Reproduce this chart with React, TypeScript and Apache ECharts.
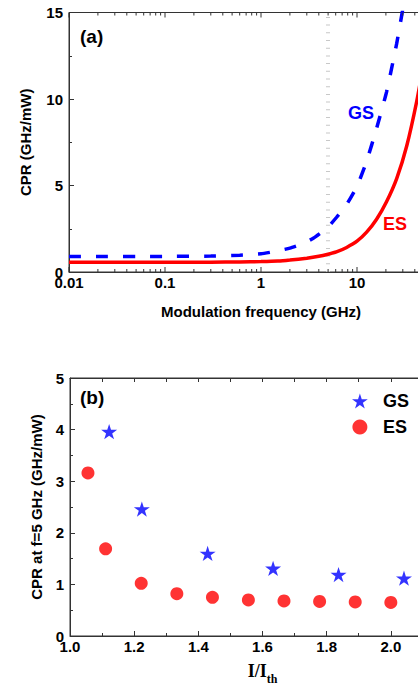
import React, { useEffect, useRef } from "react";
import * as echarts from "echarts";

// ---- Panel (a): CPR vs modulation frequency ----
const freqES = [0.01, 0.1, 0.3, 0.6, 1, 1.5, 2, 3, 4, 5, 6.1, 7.8, 10, 12.6, 16, 20.3, 25.9, 33, 42, 50];
const cprES = [0.56, 0.56, 0.57, 0.58, 0.6, 0.63, 0.69, 0.8, 0.91, 1.03, 1.16, 1.42, 1.78, 2.3, 3.05, 4.06, 5.4, 7.3, 9.9, 12.2];
const freqGS = [0.01, 0.1, 0.3, 0.6, 1, 1.34, 2, 2.76, 3.5, 4.9, 6.1, 7.8, 10, 12.6, 16, 20.3, 25.9, 30, 32];
const cprGS = [0.9, 0.9, 0.92, 0.97, 1.05, 1.17, 1.38, 1.65, 1.95, 2.55, 3.15, 3.9, 4.95, 6.4, 8.3, 10.4, 13.2, 15.2, 16.1];
const freqMajorTicks = [0.01, 0.1, 1, 10];
const freqMinorTicks = [
  0.02, 0.03, 0.04, 0.05, 0.06, 0.07, 0.08, 0.09,
  0.2, 0.3, 0.4, 0.5, 0.6, 0.7, 0.8, 0.9,
  2, 3, 4, 5, 6, 7, 8, 9,
  20, 30, 40, 50, 60, 70, 80, 90,
];
const markerFreq = 5;

// ---- Panel (b): CPR at f = 5 GHz vs I/Ith ----
const ratioGS = [1.122, 1.224, 1.429, 1.633, 1.837, 2.041];
const cprGS5 = [3.96, 2.46, 1.6, 1.31, 1.19, 1.12];
const ratioES = [1.056, 1.111, 1.222, 1.333, 1.444, 1.556, 1.667, 1.778, 1.889, 2.0];
const cprES5 = [3.16, 1.69, 1.02, 0.82, 0.75, 0.7, 0.68, 0.67, 0.66, 0.65];

const SANS = "'Liberation Sans', Arial, sans-serif";
const SERIF = "'Liberation Serif', 'Times New Roman', serif";
const AXIS = "#333";
const STAR = "path://M50,0 L61.2,34.5 L97.6,34.5 L68.2,55.9 L79.4,90.5 L50,69.1 L20.6,90.5 L31.8,55.9 L2.4,34.5 L38.8,34.5 Z";

export default function App() {
  const ref = useRef<HTMLDivElement>(null);
  useEffect(() => {
    if (!ref.current) return;
    const chart = echarts.init(ref.current, null, { renderer: "svg" });
    const labelStyle = { color: "#000", fontFamily: SANS, fontWeight: "bold", fontSize: 15 };
    const nameStyle = { color: "#000", fontFamily: SANS, fontWeight: "bold", fontSize: 15 };
    const lineStyleAxis = { color: AXIS, width: 1 };
    const tickData = freqMajorTicks.map((v) => [v, 5]).concat(freqMinorTicks.map((v) => [v, 3]));
    const option: any = {
      animation: false,
      grid: [
        { left: 69, top: 12.5, width: 384, height: 259.5, show: true, borderColor: AXIS, borderWidth: 1, outerBoundsMode: "none", containLabel: false },
        { left: 70, top: 378, width: 385, height: 258, show: true, borderColor: AXIS, borderWidth: 1, outerBoundsMode: "none", containLabel: false },
      ],
      xAxis: [
        {
          gridIndex: 0, type: "log", logBase: 10, min: 0.01, max: 100,
          name: "Modulation frequency (GHz)", nameLocation: "middle", nameGap: 32, nameTextStyle: nameStyle,
          axisLine: { show: true, lineStyle: lineStyleAxis }, axisTick: { show: false },
          axisLabel: { ...labelStyle, margin: 3, showMaxLabel: false }, splitLine: { show: false },
        },
        {
          gridIndex: 1, type: "value", min: 1, max: 2.2, interval: 0.2,
          name: "{a|I/I}{b|th}", nameLocation: "middle", nameGap: 21,
          nameTextStyle: {
            color: "#000",
            rich: {
              a: { fontFamily: SERIF, fontWeight: "bold", fontSize: 18, color: "#000" },
              b: { fontFamily: SERIF, fontWeight: "bold", fontSize: 12, color: "#000", padding: [16, 0, 0, 0] },
            },
          },
          axisLine: { show: true, lineStyle: lineStyleAxis },
          axisTick: { show: true, inside: true, length: 5, lineStyle: lineStyleAxis },
          minorTick: { show: true, splitNumber: 2, length: 3, lineStyle: lineStyleAxis },
          axisLabel: { ...labelStyle, margin: 3, showMaxLabel: false, formatter: (v: number) => v.toFixed(1) },
          splitLine: { show: false },
        },
        {
          gridIndex: 1, type: "value", position: "top", min: 1, max: 2.2, interval: 0.1,
          axisLine: { show: true, lineStyle: lineStyleAxis },
          axisTick: { show: true, inside: true, length: 4, lineStyle: lineStyleAxis },
          axisLabel: { show: false }, splitLine: { show: false },
        },
      ],
      yAxis: [
        {
          gridIndex: 0, type: "value", min: 0, max: 15, interval: 5,
          name: "CPR (GHz/mW)", nameLocation: "middle", nameGap: 36, nameTextStyle: nameStyle,
          axisLine: { show: true, lineStyle: lineStyleAxis },
          axisTick: { show: true, inside: true, length: 5, lineStyle: lineStyleAxis },
          minorTick: { show: true, splitNumber: 2, length: 3, lineStyle: lineStyleAxis },
          axisLabel: { ...labelStyle, margin: 6 }, splitLine: { show: false },
        },
        {
          gridIndex: 1, type: "value", min: 0, max: 5, interval: 1,
          name: "CPR at f=5 GHz (GHz/mW)", nameLocation: "middle", nameGap: 26, nameTextStyle: nameStyle,
          axisLine: { show: true, lineStyle: lineStyleAxis },
          axisTick: { show: true, inside: true, length: 5, lineStyle: lineStyleAxis },
          minorTick: { show: true, splitNumber: 2, length: 3, lineStyle: lineStyleAxis },
          axisLabel: { ...labelStyle, margin: 6 }, splitLine: { show: false },
        },
      ],
      legend: {
        orient: "vertical", left: 347, top: 387, itemWidth: 16, itemHeight: 15, itemGap: 8,
        data: ["GS", "ES"],
        textStyle: { color: "#000", fontFamily: SANS, fontWeight: "bold", fontSize: 18, lineHeight: 15, padding: [0, 0, 0, 10] },
      },
      series: [
        {
          name: "ticks", type: "custom", xAxisIndex: 0, yAxisIndex: 0, silent: true, clip: false, z: 5,
          data: tickData,
          renderItem: (_p: any, api: any) => {
            const v = api.value(0);
            const len = api.value(1);
            const b = api.coord([v, 0]);
            const t = api.coord([v, 15]);
            return {
              type: "group",
              children: [
                { type: "line", shape: { x1: b[0], y1: b[1], x2: b[0], y2: b[1] - len }, style: { stroke: AXIS, lineWidth: 1 } },
                { type: "line", shape: { x1: t[0], y1: t[1], x2: t[0], y2: t[1] + len }, style: { stroke: AXIS, lineWidth: 1 } },
              ],
            };
          },
        },
        {
          name: "ES (a)", type: "line", xAxisIndex: 0, yAxisIndex: 0, symbol: "none", smooth: 0.15,
          data: freqES.map((f, i) => [f, cprES[i]]),
          lineStyle: { color: "#ff0000", width: 3.5 }, z: 3,
          markLine: {
            silent: true, symbol: ["none", "none"], label: { show: false }, z: 1,
            lineStyle: { color: "#c8c8c8", width: 4, type: [1, 6.7] },
            data: [{ xAxis: markerFreq }],
          },
        },
        {
          name: "GS (a)", type: "line", xAxisIndex: 0, yAxisIndex: 0, symbol: "none", smooth: 0.15,
          data: freqGS.map((f, i) => [f, cprGS[i]]),
          lineStyle: { color: "#0000ff", width: 3.5, type: [12, 15] }, z: 4,
        },
        {
          name: "GS", type: "scatter", xAxisIndex: 1, yAxisIndex: 1, symbol: STAR, symbolSize: 16, symbolKeepAspect: true,
          itemStyle: { color: "#0000ff" }, data: ratioGS.map((r, i) => [r, cprGS5[i]]),
        },
        {
          name: "ES", type: "scatter", xAxisIndex: 1, yAxisIndex: 1, symbol: "circle", symbolSize: 13,
          itemStyle: { color: "#ff0000" }, data: ratioES.map((r, i) => [r, cprES5[i]]),
        },
      ],
      graphic: [
        { type: "text", x: 80, y: 36, style: { text: "(a)", font: `bold 19px ${SANS}`, fill: "#000", align: "left", verticalAlign: "middle" } },
        { type: "text", x: 348, y: 113, style: { text: "GS", font: `bold 18px ${SANS}`, fill: "#0000ff", align: "left", verticalAlign: "middle" } },
        { type: "text", x: 383, y: 224, style: { text: "ES", font: `bold 18px ${SANS}`, fill: "#ff0000", align: "left", verticalAlign: "middle" } },
        { type: "text", x: 80, y: 397, style: { text: "(b)", font: `bold 19px ${SANS}`, fill: "#000", align: "left", verticalAlign: "middle" } },
      ],
    };
    chart.setOption(option);
    return () => chart.dispose();
  }, []);
  return (
    <div style={{ position: "fixed", left: 0, top: 0, width: 418, height: 685, overflow: "hidden", background: "#fff" }}>
      <div ref={ref} style={{ width: 460, height: 685 }} />
    </div>
  );
}
